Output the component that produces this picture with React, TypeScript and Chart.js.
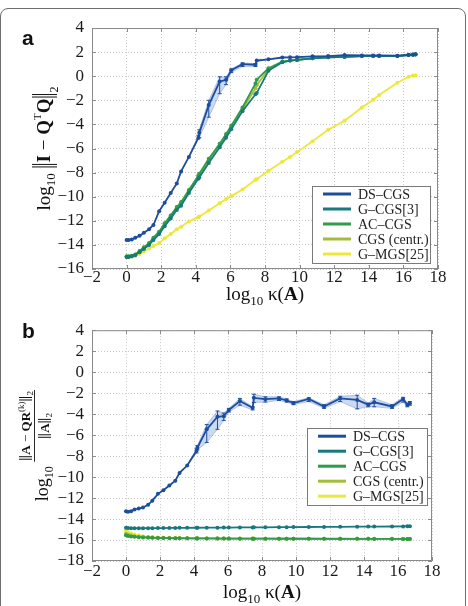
import React, { useEffect, useRef } from "react";
import { Chart, registerables } from "chart.js";

Chart.register(...registerables);

const SERIF = '"Liberation Serif", "Times New Roman", serif';
const SANS = '"Liberation Sans", Arial, sans-serif';

// log10 of the condition number of each test matrix
const kappa = [
  0.0, 0.12, 0.3, 0.5, 0.75, 1.0, 1.3, 1.55, 1.88, 2.2, 2.55, 2.9, 3.15, 3.6, 4.15, 4.2, 4.75, 5.38, 5.75,
  6.05, 6.7, 7.45, 7.52, 8.2, 9.0, 9.45, 9.85, 10.75, 11.65, 12.6, 13.6, 14.25, 14.6, 15.65, 16.3, 16.55, 16.7,
];

// (a) loss of orthogonality, log10 ||I - Q^T Q||_2
const dsA = [
  -13.6, -13.6, -13.55, -13.4, -13.25, -13.0, -12.7, -12.35, -11.2, -10.5, -9.7, -8.9, -7.9, -6.7, -5.1, -4.7,
  -2.4, -0.45, -0.3, 0.5, 1.0, 0.95, 1.3, 1.4, 1.55, 1.57, 1.58, 1.65, 1.67, 1.75, 1.72, 1.72, 1.72, 1.7, 1.78,
  1.8, 1.82,
];
const dsLoA = [
  -13.6, -13.6, -13.55, -13.4, -13.25, -13.0, -12.7, -12.35, -11.2, -10.5, -9.7, -8.9, -7.9, -6.7, -5.2, -5.1,
  -3.4, -1.45, -0.7, 0.3, 0.8, 0.8, 1.2, 1.4, 1.55, 1.57, 1.58, 1.65, 1.67, 1.75, 1.72, 1.72, 1.72, 1.7, 1.78,
  1.8, 1.82,
];
const dsHiA = [
  -13.6, -13.6, -13.55, -13.4, -13.25, -13.0, -12.7, -12.35, -11.2, -10.5, -9.7, -8.9, -7.9, -6.7, -4.9, -4.45,
  -2.0, -0.05, -0.05, 0.6, 1.1, 1.05, 1.4, 1.4, 1.55, 1.57, 1.58, 1.65, 1.67, 1.75, 1.72, 1.72, 1.72, 1.7, 1.78,
  1.8, 1.82,
];
const gcgsA = [
  -15.0, -15.0, -14.95, -14.85, -14.6, -14.35, -14.0, -13.6, -13.1, -12.45, -11.8, -11.1, -10.75, -9.7, -8.5,
  -8.4, -7.2, -5.9, -5.1, -4.4, -2.9, -1.5, -1.4, 0.45, 1.15, 1.3, 1.35, 1.48, 1.57, 1.6, 1.67, 1.67, 1.67,
  1.67, 1.75, 1.78, 1.8,
];
const accgsA = [
  -14.95, -14.95, -14.9, -14.8, -14.5, -14.2, -13.85, -13.4, -12.9, -12.2, -11.55, -10.85, -10.45, -9.45,
  -8.25, -8.1, -6.85, -5.6, -4.8, -4.1, -2.6, -0.6, -0.3, 0.65, 1.2, 1.3, 1.35, 1.48, 1.57, 1.6, 1.67, 1.67,
  1.67, 1.67, 1.75, 1.78, 1.82,
];
const centrA = [
  -15.0, -14.98, -14.92, -14.82, -14.55, -14.28, -13.92, -13.5, -13.0, -12.3, -11.65, -10.95, -10.6, -9.55,
  -8.35, -8.25, -7.0, -5.75, -4.95, -4.25, -2.75, -1.0, -0.75, 0.55, 1.18, 1.3, 1.35, 1.48, 1.57, 1.6, 1.67,
  1.67, 1.67, 1.67, 1.75, 1.78, 1.8,
];
const gmgsA = [
  -15.0, -15.0, -14.98, -14.9, -14.75, -14.55, -14.3, -14.1, -13.85, -13.45, -13.1, -12.7, -12.5, -12.05,
  -11.7, -11.65, -11.15, -10.55, -10.2, -9.95, -9.4, -8.6, -8.55, -7.85, -7.1, -6.7, -6.3, -5.4, -4.45, -3.7,
  -2.6, -1.95, -1.55, -0.55, -0.05, 0.05, 0.05,
];

// (b) relative residual, log10 ||A - QR^(k)||_2 / ||A||_2
const dsB = [
  -13.25, -13.3, -13.25, -13.1, -13.0, -12.9, -12.65, -12.25, -11.6, -11.25, -10.8, -10.35, -9.6, -8.9, -7.5,
  -7.2, -5.45, -4.25, -4.2, -3.6, -2.75, -3.4, -2.45, -2.57, -2.5, -2.7, -2.95, -2.55, -3.28, -2.5, -2.65,
  -3.1, -2.87, -3.27, -2.55, -3.12, -2.97,
];
const dsLoB = [
  -13.25, -13.3, -13.25, -13.1, -13.0, -12.9, -12.65, -12.25, -11.6, -11.25, -10.8, -10.35, -9.7, -8.9, -7.7,
  -7.4, -6.7, -5.45, -4.6, -3.8, -3.15, -3.6, -2.9, -2.85, -2.7, -2.85, -3.1, -2.8, -3.45, -2.8, -3.5, -3.3,
  -3.3, -3.45, -2.85, -3.3, -3.15,
];
const dsHiB = [
  -13.25, -13.3, -13.25, -13.1, -13.0, -12.9, -12.65, -12.25, -11.6, -11.25, -10.8, -10.35, -9.5, -8.9, -7.3,
  -7.0, -5.0, -3.7, -3.9, -3.45, -2.5, -3.3, -2.1, -2.35, -2.35, -2.55, -2.8, -2.45, -3.1, -2.3, -2.2, -2.95,
  -2.5, -3.1, -2.4, -2.95, -2.8,
];
const gcgsB = [
  -14.82, -14.86, -14.87, -14.87, -14.88, -14.88, -14.87, -14.87, -14.86, -14.86, -14.85, -14.85, -14.84,
  -14.84, -14.83, -14.83, -14.82, -14.82, -14.81, -14.81, -14.8, -14.8, -14.79, -14.79, -14.78, -14.78,
  -14.77, -14.76, -14.75, -14.74, -14.73, -14.72, -14.72, -14.71, -14.7, -14.68, -14.68,
];
const accgsB = [
  -15.55, -15.62, -15.66, -15.7, -15.73, -15.75, -15.77, -15.79, -15.8, -15.81, -15.82, -15.83, -15.83,
  -15.84, -15.85, -15.85, -15.85, -15.86, -15.86, -15.86, -15.87, -15.87, -15.87, -15.87, -15.88, -15.88,
  -15.88, -15.88, -15.89, -15.89, -15.89, -15.89, -15.9, -15.9, -15.9, -15.9, -15.9,
];
const centrB = [
  -15.4, -15.5, -15.58, -15.64, -15.69, -15.72, -15.75, -15.77, -15.79, -15.8, -15.81, -15.82, -15.82,
  -15.83, -15.84, -15.84, -15.85, -15.85, -15.85, -15.86, -15.86, -15.86, -15.87, -15.87, -15.87, -15.87,
  -15.88, -15.88, -15.88, -15.88, -15.89, -15.89, -15.89, -15.89, -15.9, -15.9, -15.9,
];
const gmgsB = [
  -15.1, -15.25, -15.38, -15.48, -15.57, -15.63, -15.68, -15.72, -15.75, -15.77, -15.79, -15.8, -15.81,
  -15.82, -15.83, -15.83, -15.84, -15.84, -15.85, -15.85, -15.85, -15.86, -15.86, -15.86, -15.87, -15.87,
  -15.87, -15.87, -15.88, -15.88, -15.88, -15.88, -15.89, -15.89, -15.89, -15.9, -15.9,
];

const seriesNames = ["DS–CGS", "G–CGS[3]", "AC–CGS", "CGS (centr.)", "G–MGS[25]"];
const seriesColors = ["#1d4e9e", "#17797c", "#2e9c48", "#a3bd3a", "#ece83a"];
const bandFill = "rgba(96, 140, 214, 0.33)";
const bandEdge = "rgba(80, 120, 205, 0.45)";

const xRange = [-2, 18];
const yRangeA = [-16, 4];
const yRangeB = [-18, 4];
const tickStep = 2;

type Seg = { t?: string; size?: number; bold?: boolean; dy?: number; bars?: [number, number] };

const fontOf = (size: number, bold?: boolean) => `${bold ? "bold " : ""}${size}px ${SERIF}`;

function segsWidth(ctx: CanvasRenderingContext2D, segs: Seg[]) {
  let w = 0;
  for (const s of segs) {
    if (s.bars) {
      w += 6;
    } else {
      ctx.font = fontOf(s.size!, s.bold);
      w += ctx.measureText(s.t!).width;
    }
  }
  return w;
}

function drawSegs(ctx: CanvasRenderingContext2D, segs: Seg[], x: number, y: number) {
  let cx = x;
  for (const s of segs) {
    if (s.bars) {
      ctx.save();
      ctx.lineWidth = 1;
      ctx.strokeStyle = "#111";
      ctx.beginPath();
      ctx.moveTo(cx + 1.5, y + s.bars[0]);
      ctx.lineTo(cx + 1.5, y + s.bars[1]);
      ctx.moveTo(cx + 4, y + s.bars[0]);
      ctx.lineTo(cx + 4, y + s.bars[1]);
      ctx.stroke();
      ctx.restore();
      cx += 6;
    } else {
      ctx.font = fontOf(s.size!, s.bold);
      ctx.fillText(s.t!, cx, y + (s.dy || 0));
      cx += ctx.measureText(s.t!).width;
    }
  }
}

const xTitle: Seg[] = [
  { t: "log", size: 19 },
  { t: "10", size: 13, dy: 5 },
  { t: " κ(", size: 19 },
  { t: "A", size: 19, bold: true },
  { t: ")", size: 19 },
];

const orthTitle: Seg[] = [
  { t: "log", size: 19 },
  { t: "10", size: 13, dy: 5 },
  { t: " ", size: 19 },
  { bars: [-18, 7] },
  { t: "I", size: 19, bold: true },
  { t: " − ", size: 19 },
  { t: "Q", size: 19, bold: true },
  { t: "T", size: 11, dy: -9 },
  { t: "Q", size: 19, bold: true },
  { bars: [-18, 7] },
  { t: "2", size: 12, dy: 8 },
];

const residLead: Seg[] = [
  { t: "log", size: 18 },
  { t: "10", size: 12, dy: 5 },
  { t: " ", size: 18 },
];
const residNum: Seg[] = [
  { bars: [-11, 2] },
  { t: "A", size: 13, bold: true },
  { t: " − ", size: 13 },
  { t: "QR", size: 13, bold: true },
  { t: "(k)", size: 9, dy: -6 },
  { bars: [-11, 2] },
  { t: "2", size: 9, dy: 3 },
];
const residDen: Seg[] = [
  { bars: [-11, 2] },
  { t: "A", size: 13, bold: true },
  { bars: [-11, 2] },
  { t: "2", size: 9, dy: 3 },
];

function drawResidTitle(ctx: CanvasRenderingContext2D) {
  const mw = segsWidth(ctx, residLead);
  const nw = segsWidth(ctx, residNum);
  const dw = segsWidth(ctx, residDen);
  const fw = Math.max(nw, dw) + 2;
  let x = -(mw + fw) / 2;
  drawSegs(ctx, residLead, x, 0);
  x += mw;
  drawSegs(ctx, residNum, x + (fw - nw) / 2, -18);
  drawSegs(ctx, residDen, x + (fw - dw) / 2, 1);
  ctx.beginPath();
  ctx.lineWidth = 0.9;
  ctx.strokeStyle = "#111";
  ctx.moveTo(x, -13.5);
  ctx.lineTo(x + fw, -13.5);
  ctx.stroke();
}

// panel letter and axis titles
const decorPlugin = {
  id: "decor",
  afterDraw(chart: any, _args: any, opts: any) {
    const ctx: CanvasRenderingContext2D = chart.ctx;
    const ca = chart.chartArea;
    ctx.save();
    ctx.fillStyle = "#111";
    ctx.textAlign = "left";
    ctx.textBaseline = "alphabetic";
    ctx.font = `bold 21px ${SANS}`;
    ctx.fillText(opts.letter, opts.letterX, opts.letterY);

    const cx = (ca.left + ca.right) / 2;
    const w = segsWidth(ctx, xTitle);
    drawSegs(ctx, xTitle, cx - w / 2, opts.xTitleY);

    const cy = (ca.top + ca.bottom) / 2;
    ctx.translate(opts.yTitleX, cy);
    ctx.rotate(-Math.PI / 2);
    if (opts.yTitle === "orth") {
      const w2 = segsWidth(ctx, orthTitle);
      drawSegs(ctx, orthTitle, -w2 / 2, 0);
    } else {
      drawResidTitle(ctx);
    }
    ctx.restore();
  },
};

// box around the plot area with short inward ticks
const framePlugin = {
  id: "frame",
  afterDatasetsDraw(chart: any) {
    const ctx: CanvasRenderingContext2D = chart.ctx;
    const { left, right, top, bottom } = chart.chartArea;
    ctx.save();
    ctx.strokeStyle = "#8a8a8a";
    ctx.lineWidth = 1;
    ctx.strokeRect(left + 0.5, top + 0.5, right - left - 1, bottom - top - 1);
    ctx.beginPath();
    for (const t of chart.scales.x.ticks) {
      const px = Math.round(chart.scales.x.getPixelForValue(t.value)) + 0.5;
      ctx.moveTo(px, bottom);
      ctx.lineTo(px, bottom - 4);
      ctx.moveTo(px, top);
      ctx.lineTo(px, top + 4);
    }
    for (const t of chart.scales.y.ticks) {
      const py = Math.round(chart.scales.y.getPixelForValue(t.value)) + 0.5;
      ctx.moveTo(left, py);
      ctx.lineTo(left + 4, py);
      ctx.moveTo(right, py);
      ctx.lineTo(right - 4, py);
    }
    ctx.stroke();
    ctx.restore();
  },
};

// vertical min-max bars on the DS-CGS curve
const errorBarPlugin = {
  id: "errorBars",
  afterDatasetsDraw(chart: any, _args: any, opts: any) {
    const { xs, lo, hi, color } = opts;
    if (!xs) return;
    const ctx: CanvasRenderingContext2D = chart.ctx;
    const sx = chart.scales.x;
    const sy = chart.scales.y;
    ctx.save();
    ctx.strokeStyle = color;
    ctx.lineWidth = 1;
    ctx.beginPath();
    xs.forEach((k: number, i: number) => {
      if (hi[i] - lo[i] < 0.2) return;
      const px = sx.getPixelForValue(k);
      const y1 = sy.getPixelForValue(lo[i]);
      const y2 = sy.getPixelForValue(hi[i]);
      ctx.moveTo(px, y1);
      ctx.lineTo(px, y2);
      ctx.moveTo(px - 2, y1);
      ctx.lineTo(px + 2, y1);
      ctx.moveTo(px - 2, y2);
      ctx.lineTo(px + 2, y2);
    });
    ctx.stroke();
    ctx.restore();
  },
};

// legend box drawn inside the plot area
const insetLegendPlugin = {
  id: "insetLegend",
  afterDraw(chart: any, _args: any, opts: any) {
    const ctx: CanvasRenderingContext2D = chart.ctx;
    const ca = chart.chartArea;
    const x1 = ca.right - opts.right;
    const x0 = x1 - opts.width;
    const y0 = opts.top != null ? ca.top + opts.top : ca.bottom - opts.bottom - opts.height;
    ctx.save();
    ctx.fillStyle = "#ffffff";
    ctx.fillRect(x0, y0, opts.width, opts.height);
    ctx.strokeStyle = "#7a7a7a";
    ctx.lineWidth = 1;
    ctx.strokeRect(Math.round(x0) + 0.5, Math.round(y0) + 0.5, opts.width, opts.height);
    ctx.font = `14px ${SERIF}`;
    ctx.textAlign = "left";
    ctx.textBaseline = "middle";
    seriesNames.forEach((name, i) => {
      const y = y0 + 8 + i * 15;
      ctx.strokeStyle = seriesColors[i];
      ctx.lineWidth = 3;
      ctx.beginPath();
      ctx.moveTo(x0 + 11, y);
      ctx.lineTo(x0 + 39, y);
      ctx.stroke();
      ctx.fillStyle = "#222";
      ctx.fillText(name, x0 + 46, y + 1);
    });
    ctx.restore();
  },
};

const toPoints = (ys: number[]) => kappa.map((k, i) => ({ x: k, y: ys[i] }));

const minusTick = (v: any) => (Number(v) < 0 ? "−" + Math.abs(Number(v)) : String(v));

interface PanelSpec {
  series: number[][];
  lo: number[];
  hi: number[];
  yRange: number[];
  padTop: number;
  padRight: number;
  xHeight: number;
  xPad: number;
  legend: any;
  decor: any;
}

function buildConfig(spec: PanelSpec): any {
  const lines = spec.series.map((ys, i) => ({
    label: seriesNames[i],
    data: toPoints(ys),
    borderColor: seriesColors[i],
    backgroundColor: seriesColors[i],
    pointBackgroundColor: seriesColors[i],
    borderWidth: 1.8,
    pointRadius: 2,
    pointBorderWidth: 0,
    tension: 0,
    fill: false,
  }));
  const band = [
    {
      label: "min",
      data: toPoints(spec.lo),
      borderColor: bandEdge,
      borderWidth: 0.8,
      pointRadius: 0,
      fill: false,
      order: 10,
    },
    {
      label: "max",
      data: toPoints(spec.hi),
      borderColor: bandEdge,
      backgroundColor: bandFill,
      borderWidth: 0.8,
      pointRadius: 0,
      fill: "-1",
      order: 10,
    },
  ];
  const tickFont = { family: SERIF, size: 17 };
  return {
    type: "line",
    data: { datasets: [...lines, ...band] },
    options: {
      responsive: false,
      animation: false,
      events: [],
      layout: { padding: { top: spec.padTop, right: spec.padRight, left: 0, bottom: 0 } },
      scales: {
        x: {
          type: "linear",
          min: xRange[0],
          max: xRange[1],
          ticks: {
            stepSize: tickStep,
            font: tickFont,
            color: "#1a1a1a",
            padding: spec.xPad,
            callback: minusTick,
            maxRotation: 0,
            autoSkip: false,
          },
          grid: { color: "#c8c8c8", lineWidth: 1, drawTicks: false },
          border: { display: false, dash: [1, 2] },
          afterFit: (s: any) => {
            s.height = spec.xHeight;
          },
        },
        y: {
          type: "linear",
          min: spec.yRange[0],
          max: spec.yRange[1],
          ticks: { stepSize: tickStep, font: tickFont, color: "#1a1a1a", padding: 8, callback: minusTick, autoSkip: false },
          grid: { color: "#c8c8c8", lineWidth: 1, drawTicks: false },
          border: { display: false, dash: [1, 2] },
          afterFit: (s: any) => {
            s.width = 92;
          },
        },
      },
      plugins: {
        legend: { display: false },
        tooltip: { enabled: false },
        errorBars: { xs: kappa, lo: spec.lo, hi: spec.hi, color: seriesColors[0] },
        insetLegend: spec.legend,
        decor: spec.decor,
      },
    },
    plugins: [framePlugin, errorBarPlugin, insetLegendPlugin, decorPlugin],
  };
}

function Panel({ spec, top, height }: { spec: PanelSpec; top: number; height: number }) {
  const ref = useRef<HTMLCanvasElement>(null);
  useEffect(() => {
    const chart = new Chart(ref.current!, buildConfig(spec));
    return () => chart.destroy();
  }, []);
  return (
    <canvas
      ref={ref}
      width={468}
      height={height}
      style={{ position: "absolute", left: 0, top, width: 468, height }}
    />
  );
}

const panelA: PanelSpec = {
  series: [dsA, gcgsA, accgsA, centrA, gmgsA],
  lo: dsLoA,
  hi: dsHiA,
  yRange: yRangeA,
  padTop: 28,
  padRight: 30,
  xHeight: 43,
  xPad: -2,
  legend: { right: 8, bottom: 6, width: 118, height: 77 },
  decor: { letter: "a", letterX: 22, letterY: 45, xTitleY: 300, yTitleX: 50, yTitle: "orth" },
};

const panelB: PanelSpec = {
  series: [dsB, gcgsB, accgsB, centrB, gmgsB],
  lo: dsLoB,
  hi: dsHiB,
  yRange: yRangeB,
  padTop: 12,
  padRight: 36,
  xHeight: 45,
  xPad: 0,
  legend: { right: 5, top: 98, width: 120, height: 77 },
  decor: { letter: "b", letterX: 22, letterY: 26, xTitleY: 286, yTitleX: 48, yTitle: "resid" },
};

export default function App() {
  return (
    <div style={{ position: "absolute", left: 0, top: 0, width: 468, height: 606, background: "#fff", overflow: "hidden" }}>
      <div
        style={{
          position: "absolute",
          left: 0,
          top: 8,
          width: 466,
          height: 640,
          boxSizing: "border-box",
          border: "1.5px solid #6e6e6e",
          borderRadius: 8,
        }}
      />
      <Panel spec={panelA} top={0} height={312} />
      <Panel spec={panelB} top={312} height={294} />
    </div>
  );
}
